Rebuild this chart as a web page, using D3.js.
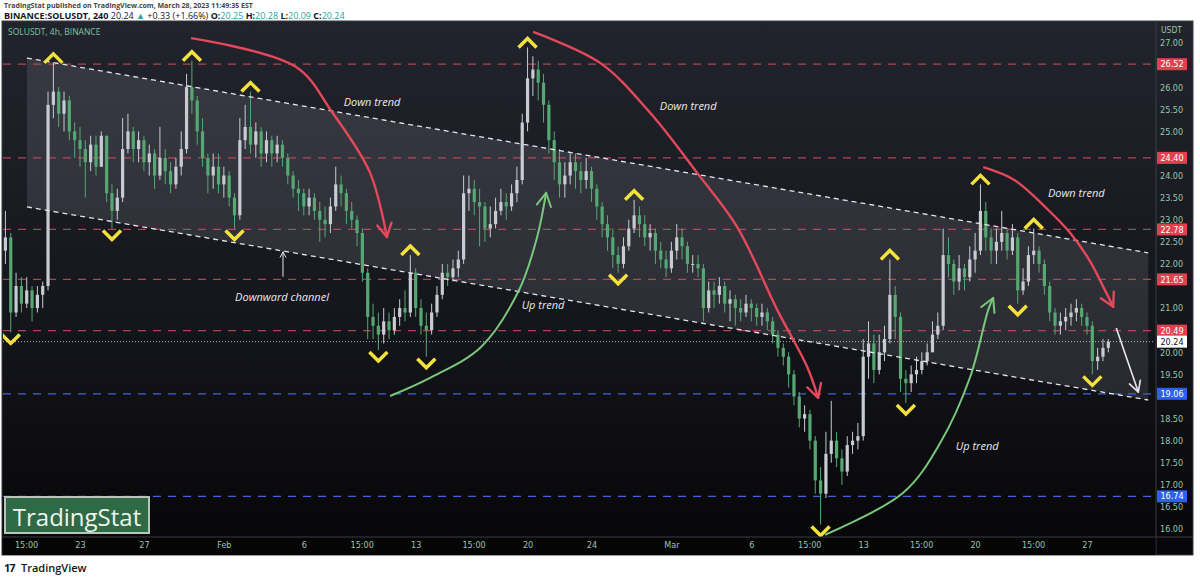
<!DOCTYPE html>
<html>
<head>
<meta charset="utf-8">
<script src="https://cdn.jsdelivr.net/npm/d3@7/dist/d3.min.js"></script>
<style>
body{margin:0;background:#fff;}
svg{display:block;}
</style>
</head>
<body>
<svg id="svg" width="1200" height="581"></svg>
<script>
var startTime = Date.UTC(2023,0,18,8);
var barHours = 8;
var firstOpen = 22.3;
var closes = [
 22.6,20.9,21.5,21.1,21.4,21.0,21.3,21.5,25.6,25.9,
 25.4,25.7,25.0,24.8,24.6,24.3,24.7,24.2,24.9,23.6,
 23.2,23.5,24.6,25.0,24.6,24.8,24.3,24.5,24.0,24.4,
 24.1,23.8,24.2,24.6,26.0,25.7,25.0,24.4,24.0,24.2,
 23.8,24.0,23.5,23.1,24.8,25.1,24.7,25.0,24.5,24.8,
 24.5,24.7,24.4,24.0,23.7,23.6,23.3,23.5,23.2,23.0,
 22.9,23.3,23.8,23.6,23.2,23.0,22.7,21.8,20.8,20.6,
 20.4,20.7,20.5,20.8,21.0,20.9,21.8,21.0,20.6,20.5,
 20.9,21.3,21.8,21.7,21.9,22.1,23.6,23.7,23.4,23.3,
 22.8,22.9,23.2,23.4,23.3,23.6,23.9,25.2,26.2,26.4,
 26.1,25.6,24.8,24.3,23.8,24.0,24.3,24.1,23.9,24.1,
 23.7,23.3,22.9,22.6,22.2,22.0,22.4,22.8,23.1,22.9,
 22.6,22.7,22.3,22.1,21.9,22.3,22.6,22.4,22.0,22.0,
 21.9,21.0,21.4,21.3,21.5,21.1,21.2,21.0,20.9,21.1,
 21.0,20.8,20.9,20.7,20.4,20.1,19.9,19.5,19.0,18.5,
 18.6,18.0,17.1,16.8,17.7,18.0,17.6,17.3,17.9,18.0,
 18.1,19.9,20.2,19.6,20.0,20.3,21.3,20.8,19.4,19.3,
 19.5,19.6,19.8,20.0,20.4,20.6,22.2,22.0,21.6,21.9,
 21.7,22.1,22.3,23.2,22.6,22.3,22.5,22.7,22.3,22.6,
 21.4,21.6,22.2,22.3,22.0,21.5,20.9,20.6,20.7,20.8,
 20.9,21.0,20.8,20.6,19.8,19.9,20.1,20.24
];
var highs = [
 23.2,22.7,21.8,21.7,21.7,21.5,21.5,21.6,25.9,26.55,
 26.0,25.9,25.8,25.2,25.1,24.8,24.9,24.9,25.0,24.9,
 23.8,23.7,25.3,25.4,25.1,25.0,24.9,24.7,24.6,25.1,
 24.6,24.3,24.4,25.0,26.3,26.6,25.8,25.3,24.5,24.5,
 24.5,24.2,24.1,23.6,25.3,25.6,25.9,25.2,25.1,25.0,
 24.9,24.9,24.8,24.5,24.1,23.9,23.7,23.7,23.6,23.4,
 23.3,23.5,24.2,24.0,23.7,23.4,23.1,22.8,21.9,21.1,
 20.9,21.0,20.9,21.0,21.2,21.4,22.2,21.9,21.2,20.9,
 21.1,21.5,22.0,22.0,22.1,22.3,24.0,24.0,23.9,23.7,
 23.4,23.3,23.5,23.7,23.6,23.8,24.2,25.4,26.9,26.7,
 26.6,26.3,25.7,25.0,24.6,24.3,24.5,24.5,24.3,24.4,
 24.2,23.8,23.4,23.1,22.8,22.4,22.6,23.0,23.45,23.3,
 23.1,22.9,22.8,22.5,22.3,22.5,22.9,22.8,22.5,22.2,
 22.2,22.0,21.6,21.6,21.7,21.6,21.4,21.3,21.2,21.3,
 21.2,21.1,21.1,21.0,20.8,20.5,20.2,20.0,19.6,19.1,
 18.8,18.7,18.1,17.4,18.2,18.9,18.2,17.8,18.1,18.2,
 18.4,20.3,20.7,20.4,20.4,20.6,22.1,21.5,20.9,19.6,
 19.7,19.9,20.0,20.2,20.7,20.9,22.8,22.6,22.1,22.2,
 22.0,22.4,22.7,23.8,23.4,22.8,22.8,23.2,22.8,22.9,
 22.7,21.9,22.4,22.8,22.4,22.1,21.6,21.0,20.9,21.0,
 21.1,21.2,21.1,20.9,20.7,20.1,20.3,20.3
];
var lows = [
 22.0,20.45,20.8,20.9,21.0,20.7,20.9,21.0,21.4,25.3,
 25.1,25.0,24.8,24.4,24.2,23.5,24.1,24.0,24.3,23.4,
 22.8,23.0,23.4,24.5,24.3,24.3,24.1,24.0,23.7,23.9,
 23.8,23.6,23.7,24.0,24.5,25.4,24.7,24.2,23.6,23.7,
 23.6,23.5,23.3,22.8,23.0,24.6,24.5,24.4,24.2,24.3,
 24.2,24.3,24.2,23.8,23.5,23.2,23.1,23.1,23.0,22.5,
 22.6,22.7,23.2,23.3,22.9,22.8,22.4,21.6,20.3,20.3,
 20.05,20.2,20.3,20.4,20.6,20.7,20.8,20.8,20.4,19.9,
 20.4,20.8,21.2,21.5,21.6,21.7,22.0,23.2,23.1,22.4,
 22.5,22.6,22.8,23.1,23.0,23.2,23.4,23.8,25.0,25.8,
 25.7,25.2,24.5,23.9,23.5,23.5,23.8,23.7,23.6,23.7,
 23.4,23.0,22.6,22.3,21.9,21.8,21.9,22.3,22.7,22.6,
 22.4,22.3,22.0,21.9,21.7,21.8,22.1,22.1,21.8,21.8,
 21.7,20.7,20.9,21.0,21.1,20.9,20.7,20.6,20.7,20.8,
 20.7,20.6,20.6,20.5,20.2,19.9,19.7,19.2,18.8,18.3,
 18.2,17.8,16.8,16.1,16.7,17.5,17.4,17.0,17.2,17.7,
 17.8,18.0,19.4,19.3,19.5,19.8,20.2,20.3,19.1,18.85,
 19.1,19.3,19.5,19.7,20.0,20.3,20.5,21.7,21.3,21.4,
 21.4,21.6,21.8,22.2,22.3,22.0,22.0,22.3,22.1,22.2,
 21.1,21.3,21.5,22.0,21.8,21.3,20.7,20.4,20.4,20.5,
 20.6,20.7,20.6,20.4,19.5,19.6,19.8,20.0
];

// marked swing highs / lows (bar index)
var peakIdx = [9,35,46,76,98,118,166,183,193];
var troughIdx = [1,20,43,70,79,115,153,169,190,204];

// levels
var redLevels = [26.52,24.40,22.78,21.65,20.49];
var blueLevels = [19.06,16.74];
var lastPrice = 20.24;

// price axis ticks
var priceTicks = [16,16.5,17,17.5,18,18.5,19,19.5,20,20.5,21,21.5,22,22.5,23,23.5,24,24.5,25,25.5,26,26.5,27];

// time axis
var timeTicks = ["2023-01-19T15:00Z","2023-01-23T00:00Z","2023-01-27T00:00Z","2023-02-01T00:00Z","2023-02-06T00:00Z",
 "2023-02-09T15:00Z","2023-02-13T00:00Z","2023-02-16T15:00Z","2023-02-20T00:00Z","2023-02-24T00:00Z",
 "2023-03-01T00:00Z","2023-03-06T00:00Z","2023-03-09T15:00Z","2023-03-13T00:00Z","2023-03-16T15:00Z",
 "2023-03-20T00:00Z","2023-03-23T15:00Z","2023-03-27T00:00Z"];
var timeLabels = ["15:00","23","27","Feb","6","15:00","13","15:00","20","24","Mar","6","15:00","13","15:00","20","15:00","27"];

// drawings, as [days after Jan 23, price]
var channelDays = [-3.32, 66.83];
var channelUpper = [26.66, 22.25];
var channelLower = [23.29, 18.92];
var redArcs = [
 [[6.95,27.11],[13.5,26.46],[15.8,25.42],[18.15,24.06],[19.2,22.61]],
 [[28.35,27.25],[32.54,26.55],[35.67,25.42],[38.61,24.06],[41.11,22.84],[43.62,20.96],[45.49,19.67],[46.18,18.97]],
 [[56.51,24.19],[58.45,23.90],[60.58,23.22],[61.95,22.70],[63.14,22.09],[64.02,21.48],[64.64,21.03]]
];
var greenArcs = [
 [[19.40,19.01],[21.90,19.42],[25.09,20.12],[27.47,21.41],[28.60,22.61],[29.16,23.61]],
 [[46.62,15.87],[51.50,16.82],[53.82,17.95],[55.69,19.44],[56.82,20.96],[57.13,21.23]]
];
var whiteArrow = [[64.83,20.55],[66.21,19.10]];
var channelPointer = [[12.70,21.71],[12.70,22.27]];
var notes = [
 ["Down trend",18.27,25.64],["Down trend",38.05,25.55],["Down trend",62.33,23.58],
 ["Up trend",28.97,21.05],["Up trend",56.13,17.86],["Downward channel",12.64,21.23]
];

var svg = d3.select('#svg');
var plot = {left:3, right:1155, top:21, bottom:537};

var x = d3.scaleUtc()
    .domain([new Date(Date.UTC(2023,0,23)), new Date(Date.UTC(2023,2,27))])
    .range([80,1087]);
var y = d3.scaleLinear().domain([16,27]).range([529,43]);
var jan23 = Date.UTC(2023,0,23);
function dx(d){ return x(new Date(jan23 + d*864e5)); }

var bars = closes.map(function(c,i){
    var o = i ? closes[i-1] : firstOpen;
    return {t:new Date(startTime + i*barHours*36e5), o:o, c:c,
        h:Math.max(highs[i],o,c), l:Math.min(lows[i],o,c)};
});

var defs = svg.append('defs');
var grad = defs.append('linearGradient').attr('id','bg').attr('x1',0).attr('y1',0).attr('x2',0).attr('y2',1);
grad.append('stop').attr('offset','0%').attr('stop-color','#22242d');
grad.append('stop').attr('offset','55%').attr('stop-color','#15161c');
grad.append('stop').attr('offset','100%').attr('stop-color','#060608');
defs.append('clipPath').attr('id','clip').append('rect')
    .attr('x',plot.left).attr('y',plot.top).attr('width',plot.right-plot.left).attr('height',plot.bottom-plot.top);

// panel
svg.append('rect').attr('x',2).attr('y',plot.top).attr('width',1191).attr('height',534)
    .attr('fill','url(#bg)').attr('stroke','#3a3c44').attr('stroke-width',1);

// header
svg.append('text').attr('x',4).attr('y',8).attr('font-family','Open Sans, sans-serif')
    .attr('font-size',7).attr('font-weight','bold').attr('fill','#444')
    .text('TradingStat published on TradingView.com, March 28, 2023 11:49:35 EST');
var hdr = svg.append('text').attr('x',4).attr('y',19.2).attr('font-family','Open Sans, sans-serif')
    .attr('font-size',9).attr('fill','#131722');
hdr.append('tspan').attr('font-weight','bold').text('BINANCE:SOLUSDT, 240 ');
hdr.append('tspan').text(' 20.24 ');
hdr.append('tspan').attr('fill','#26a69a').text('\u25B2');
hdr.append('tspan').text(' +0.33 (+1.66%) ');
[['O:','20.25'],['H:','20.28'],['L:','20.09'],['C:','20.24']].forEach(function(p){
    hdr.append('tspan').attr('font-weight','bold').text(' '+p[0]);
    hdr.append('tspan').attr('fill','#26a69a').text(p[1]);
});

var g = svg.append('g').attr('clip-path','url(#clip)');

// channel fill
var chPts = [[channelDays[0],channelUpper[0]],[channelDays[1],channelUpper[1]],
             [channelDays[1],channelLower[1]],[channelDays[0],channelLower[0]]];
g.append('polygon')
    .attr('points',chPts.map(function(p){return dx(p[0])+','+y(p[1]);}).join(' '))
    .attr('fill','rgba(210,212,225,0.13)');

// level lines
g.selectAll('line.red').data(redLevels).enter().append('line')
    .attr('x1',plot.left).attr('x2',plot.right)
    .attr('y1',function(d){return y(d);}).attr('y2',function(d){return y(d);})
    .attr('stroke','#d0505e').attr('stroke-opacity',0.8).attr('stroke-width',1.2).attr('stroke-dasharray','8,7');
g.selectAll('line.blue').data(blueLevels).enter().append('line')
    .attr('x1',plot.left).attr('x2',plot.right)
    .attr('y1',function(d){return y(d);}).attr('y2',function(d){return y(d);})
    .attr('stroke','#4660d8').attr('stroke-width',1.2).attr('stroke-dasharray','8,7');

// candles
var candle = g.selectAll('g.c').data(bars).enter().append('g');
function col(d){ return d.c >= d.o ? '#c9cbd3' : '#55a872'; }
candle.append('line')
    .attr('x1',function(d){return x(d.t);}).attr('x2',function(d){return x(d.t);})
    .attr('y1',function(d){return y(d.h);}).attr('y2',function(d){return y(d.l);})
    .attr('stroke',col).attr('stroke-width',1);
candle.append('rect')
    .attr('x',function(d){return x(d.t)-1.6;}).attr('width',3.2)
    .attr('y',function(d){return y(Math.max(d.o,d.c));})
    .attr('height',function(d){return Math.max(1,Math.abs(y(d.o)-y(d.c)));})
    .attr('fill',col);

// last price dotted
g.append('line').attr('x1',plot.left).attr('x2',plot.right)
    .attr('y1',y(lastPrice)).attr('y2',y(lastPrice))
    .attr('stroke','#b8b8c0').attr('stroke-width',1).attr('stroke-dasharray','1,2');

// channel edges
[channelUpper,channelLower].forEach(function(c){
    g.append('line').attr('x1',dx(channelDays[0])).attr('y1',y(c[0]))
        .attr('x2',dx(channelDays[1])).attr('y2',y(c[1]))
        .attr('stroke','#e4e4ea').attr('stroke-width',1.3).attr('stroke-dasharray','5,4');
});

// arcs
var line = d3.line().x(function(p){return dx(p[0]);}).y(function(p){return y(p[1]);}).curve(d3.curveCatmullRom);
function arrowHead(path, color, w, len){
    var n = path.node(), L = n.getTotalLength();
    var a = n.getPointAtLength(L), b = n.getPointAtLength(Math.max(0,L-8));
    var ang = Math.atan2(a.y-b.y, a.x-b.x);
    [0.5,-0.5].forEach(function(s){
        g.append('line').attr('x1',a.x).attr('y1',a.y)
            .attr('x2',a.x - len*Math.cos(ang+s)).attr('y2',a.y - len*Math.sin(ang+s))
            .attr('stroke',color).attr('stroke-width',w).attr('stroke-linecap','round');
    });
}
redArcs.forEach(function(a){
    var p = g.append('path').attr('d',line(a)).attr('fill','none')
        .attr('stroke','#e4485a').attr('stroke-width',2.4);
    arrowHead(p,'#e4485a',2.4,15);
});
greenArcs.forEach(function(a){
    var p = g.append('path').attr('d',line(a)).attr('fill','none')
        .attr('stroke','#79c77c').attr('stroke-width',2);
    arrowHead(p,'#79c77c',2,15);
});
[whiteArrow, channelPointer].forEach(function(a,i){
    var p = g.append('path').attr('d',d3.line().x(function(q){return dx(q[0]);}).y(function(q){return y(q[1]);})(a))
        .attr('fill','none').attr('stroke','#e8e8ec').attr('stroke-width',i?1:1.6);
    arrowHead(p,'#e8e8ec',i?1:1.6,i?6:12);
});

// swing markers
var chev = g.append('g').attr('fill','none').attr('stroke','#f4e23c').attr('stroke-width',3.5);
peakIdx.forEach(function(i){
    var cx = x(bars[i].t), top = y(bars[i].h) - 9;
    chev.append('path').attr('d','M'+(cx-9)+','+(top+9)+'L'+cx+','+top+'L'+(cx+9)+','+(top+9));
});
troughIdx.forEach(function(i){
    var cx = x(bars[i].t), tip = y(bars[i].l) + 11;
    chev.append('path').attr('d','M'+(cx-9)+','+(tip-9)+'L'+cx+','+tip+'L'+(cx+9)+','+(tip-9));
});

// notes
g.selectAll('text.note').data(notes).enter().append('text')
    .attr('x',function(d){return dx(d[1]);}).attr('y',function(d){return y(d[2]);})
    .attr('text-anchor','middle').attr('dominant-baseline','middle')
    .attr('font-family','Open Sans, sans-serif').attr('font-style','italic').attr('font-size',11)
    .attr('fill','#e8e8ec').text(function(d){return d[0];});

svg.append('text').attr('x',8).attr('y',35).attr('font-family','Open Sans, sans-serif')
    .attr('font-size',8.5).attr('fill','#7ec4a2').text('SOLUSDT, 4h, BINANCE');

// price axis (labels hidden where a price tag sits on them)
var tagged = redLevels.concat(blueLevels,[lastPrice]);
var shown = priceTicks.filter(function(v){
    return tagged.every(function(t){ return Math.abs(y(v)-y(t)) > 8; });
});
svg.append('line').attr('x1',1156).attr('x2',1156).attr('y1',plot.top).attr('y2',555)
    .attr('stroke','#3a3c44');
var yAxis = svg.append('g').attr('transform','translate(1156,0)')
    .call(d3.axisRight(y).tickValues(shown).tickFormat(d3.format('.2f')).tickSize(0).tickPadding(4));
yAxis.select('.domain').remove();
yAxis.selectAll('text').attr('fill','#9cc4a8').attr('font-size',9)
    .attr('font-family','Liberation Sans Narrow, DejaVu Sans Condensed, sans-serif');
svg.append('text').attr('x',1161).attr('y',33).attr('font-size',8.5)
    .attr('font-family','Liberation Sans Narrow, DejaVu Sans Condensed, sans-serif')
    .attr('fill','#9cc4a8').text('USDT');

function tag(v, bg, fg){
    svg.append('rect').attr('x',1157).attr('y',y(v)-6).attr('width',30).attr('height',12).attr('fill',bg);
    svg.append('text').attr('x',1172).attr('y',y(v)).attr('dy','0.35em').attr('text-anchor','middle')
        .attr('font-size',9).attr('font-family','Liberation Sans Narrow, DejaVu Sans Condensed, sans-serif')
        .attr('fill',fg).text(v.toFixed(2));
}
redLevels.forEach(function(v){ tag(v,'#e3404e','#ffffff'); });
blueLevels.forEach(function(v){ tag(v,'#2f5ff0','#ffffff'); });
tag(lastPrice,'#ffffff','#131722');

// time axis
svg.append('rect').attr('x',2.5).attr('y',plot.bottom).attr('width',1153).attr('height',18).attr('fill','#050506');
svg.append('line').attr('x1',2).attr('x2',1193).attr('y1',plot.bottom).attr('y2',plot.bottom).attr('stroke','#3a3c44');
var xAxis = svg.append('g').attr('transform','translate(0,'+plot.bottom+')')
    .call(d3.axisBottom(x).tickValues(timeTicks.map(function(s){return new Date(s);}))
        .tickFormat(function(d,i){return timeLabels[i];}).tickSize(0).tickPadding(5));
xAxis.select('.domain').remove();
xAxis.selectAll('text').attr('fill','#9cc4a8').attr('font-size',9)
    .attr('font-family','Liberation Sans Narrow, DejaVu Sans Condensed, sans-serif');

// watermark box
svg.append('rect').attr('x',5).attr('y',497).attr('width',144).attr('height',36)
    .attr('fill','#2e6a45').attr('stroke','#b9c5bb').attr('stroke-width',2);
svg.append('text').attr('x',77).attr('y',526).attr('text-anchor','middle')
    .attr('font-family','Open Sans, sans-serif').attr('font-size',24).attr('fill','#eef4ee')
    .text('TradingStat');

// footer
svg.append('text').attr('x',4).attr('y',572).attr('font-family','Open Sans, sans-serif')
    .attr('font-size',11).attr('font-weight','bold').attr('fill','#131722').attr('letter-spacing',-1).text('17');
svg.append('text').attr('x',21).attr('y',572).attr('font-family','Open Sans, sans-serif')
    .attr('font-size',11).attr('font-weight','600').attr('fill','#131722').text('TradingView');
</script>
</body>
</html>
